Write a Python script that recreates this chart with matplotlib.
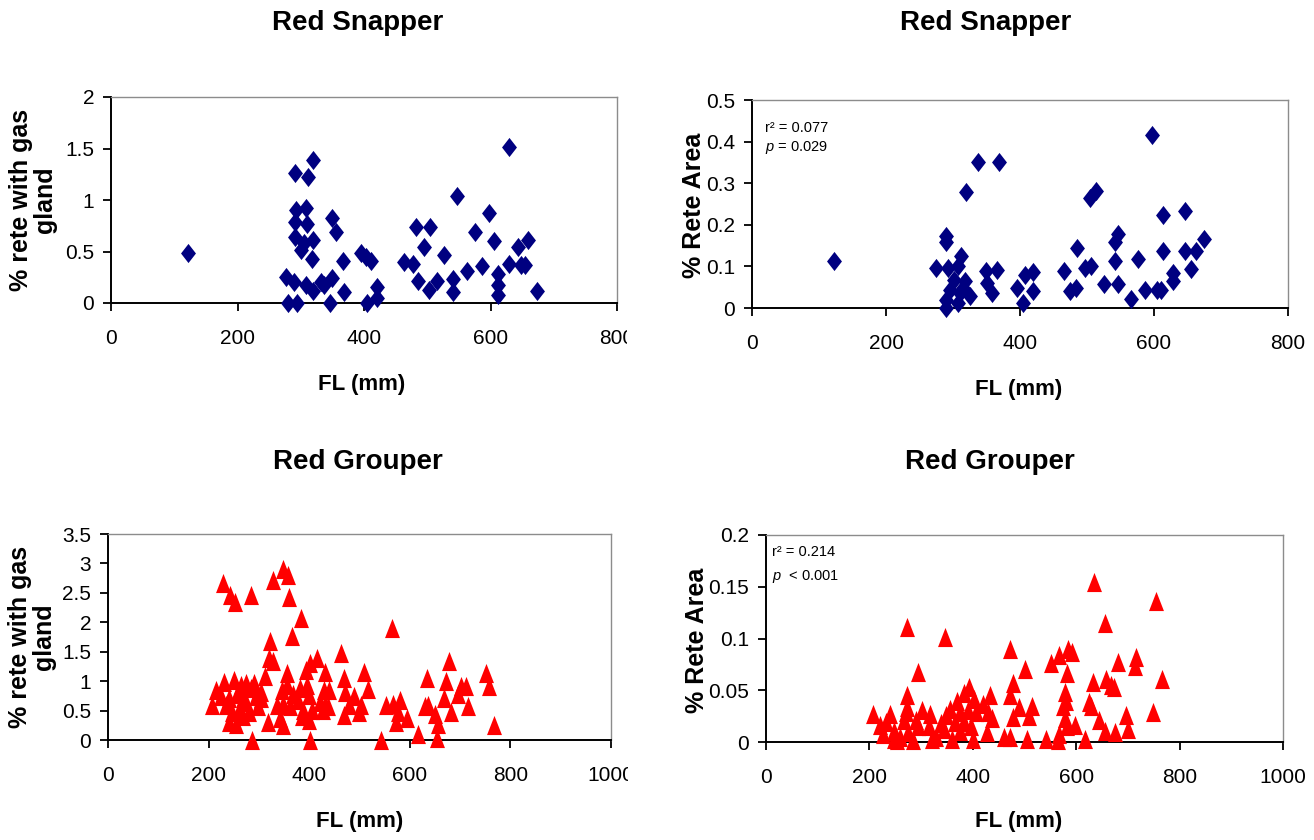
import matplotlib
matplotlib.use("Agg")
import matplotlib.pyplot as plt
from matplotlib.transforms import Bbox, TransformedBbox

# ---- data ----
snapper_fl_gland = [122, 291, 319, 312, 292, 309, 291, 310, 291, 319, 305, 300, 317, 349, 356,
                    367, 396, 411, 403, 276, 290, 309, 320, 332, 349, 337, 280, 294, 346, 369,
                    404, 420, 420, 463, 478, 483, 504, 495, 527, 485, 503, 516, 541, 541, 547,
                    563, 575, 586, 597, 605, 612, 612, 612, 630, 630, 644, 660, 648, 654, 673]
snapper_gland = [0.485, 1.26, 1.39, 1.22, 0.90, 0.92, 0.79, 0.77, 0.64, 0.61, 0.58, 0.51, 0.43, 0.83, 0.69,
                 0.41, 0.485, 0.41, 0.45, 0.25, 0.20, 0.17, 0.12, 0.20, 0.24, 0.17, 0.0, 0.0, 0.0, 0.11,
                 0.0, 0.16, 0.05, 0.40, 0.38, 0.74, 0.74, 0.54, 0.47, 0.21, 0.13, 0.21, 0.23, 0.11, 1.04,
                 0.31, 0.69, 0.36, 0.87, 0.60, 0.28, 0.17, 0.08, 1.51, 0.38, 0.54, 0.61, 0.37, 0.37, 0.12]

snapper_fl_area = [123, 289, 289, 319, 338, 368, 274, 292, 312, 308, 302, 318, 296, 310, 326,
                   289, 289, 307, 315, 349, 366, 350, 358, 395, 408, 419, 419, 405, 465, 475,
                   483, 485, 497, 506, 504, 514, 526, 542, 546, 542, 547, 566, 576, 587, 597,
                   604, 611, 613, 613, 629, 629, 647, 647, 655, 662, 675]
snapper_area = [0.114, 0.174, 0.158, 0.278, 0.350, 0.350, 0.096, 0.096, 0.126, 0.100, 0.068, 0.064, 0.044, 0.036, 0.028,
                0.020, 0.0, 0.012, 0.048, 0.088, 0.092, 0.060, 0.036, 0.048, 0.080, 0.086, 0.040, 0.012, 0.088, 0.040,
                0.048, 0.144, 0.096, 0.100, 0.264, 0.282, 0.058, 0.112, 0.178, 0.158, 0.058, 0.022, 0.118, 0.044, 0.416,
                0.044, 0.044, 0.224, 0.136, 0.084, 0.064, 0.234, 0.136, 0.094, 0.136, 0.166]

grouper_fl_gland = [228, 243, 252, 284, 328, 347, 358, 360, 383, 366, 323, 564, 321, 328, 464,
                    415, 402, 393, 432, 509, 355, 313, 470, 677, 634, 671, 751, 757, 701, 711,
                    696, 667, 716, 682, 630, 636, 650, 657, 617, 655, 767, 542, 402, 286, 552,
                    566, 580, 577, 594, 573, 516, 472, 490, 503, 479, 470, 499, 429, 439, 432,
                    422, 437, 427, 395, 382, 355, 345, 368, 378, 399, 348, 335, 362, 388, 341,
                    318, 348, 399, 385, 405, 305, 291, 274, 264, 251, 231, 214, 207, 224, 241,
                    257, 268, 294, 298, 247, 261, 281, 241, 254, 268, 234, 274, 284, 305]
grouper_gland = [2.66, 2.46, 2.35, 2.47, 2.72, 2.90, 2.81, 2.43, 2.07, 1.77, 1.68, 1.90, 1.39, 1.35, 1.47,
                 1.40, 1.30, 1.19, 1.16, 1.16, 1.14, 1.08, 1.05, 1.35, 1.05, 1.01, 1.13, 0.92, 0.91, 0.92,
                 0.79, 0.71, 0.57, 0.48, 0.57, 0.59, 0.45, 0.28, 0.11, 0.03, 0.25, 0.0, 0.0, 0.0, 0.59,
                 0.62, 0.68, 0.48, 0.37, 0.31, 0.86, 0.82, 0.74, 0.59, 0.59, 0.42, 0.48, 0.85, 0.85, 0.59,
                 0.65, 0.57, 0.51, 0.93, 0.88, 0.93, 0.85, 0.79, 0.68, 0.76, 0.62, 0.59, 0.57, 0.51, 0.37,
                 0.31, 0.25, 0.34, 0.40, 0.51, 0.82, 0.96, 0.96, 0.93, 1.02, 0.99, 0.85, 0.59, 0.74, 0.71,
                 0.79, 0.71, 0.74, 0.57, 0.48, 0.51, 0.48, 0.31, 0.28, 0.40, 0.59, 0.65, 0.88, 0.71]

grouper_fl_area = [272, 347, 634, 755, 656, 471, 500, 551, 566, 584, 592, 582, 680, 715, 714,
                   766, 632, 657, 668, 673, 294, 272, 272, 477, 471, 490, 514, 508, 478, 579,
                   580, 575, 624, 628, 697, 701, 749, 645, 655, 675, 578, 583, 597, 566, 541,
                   617, 564, 505, 460, 471, 428, 434, 420, 393, 383, 369, 403, 376, 356, 349,
                   390, 407, 430, 437, 366, 383, 396, 376, 345, 328, 322, 359, 401, 284, 254,
                   206, 220, 240, 233, 226, 247, 267, 270, 291, 294, 301, 318, 274, 260, 247,
                   339, 316]
grouper_area = [0.111, 0.101, 0.155, 0.136, 0.115, 0.090, 0.071, 0.076, 0.084, 0.090, 0.087, 0.067, 0.077, 0.082, 0.073,
                0.061, 0.058, 0.061, 0.055, 0.053, 0.068, 0.045, 0.034, 0.057, 0.045, 0.034, 0.035, 0.025, 0.024, 0.048,
                0.040, 0.035, 0.039, 0.035, 0.026, 0.013, 0.029, 0.021, 0.011, 0.010, 0.023, 0.015, 0.016, 0.008, 0.003,
                0.003, 0.002, 0.003, 0.005, 0.005, 0.010, 0.045, 0.037, 0.053, 0.047, 0.040, 0.042, 0.029, 0.032, 0.026,
                0.031, 0.029, 0.029, 0.023, 0.019, 0.019, 0.015, 0.011, 0.013, 0.005, 0.003, 0.003, 0.003, 0.002, 0.002,
                0.027, 0.016, 0.027, 0.019, 0.008, 0.011, 0.021, 0.029, 0.021, 0.015, 0.031, 0.027, 0.010, 0.005, 0.003,
                0.018, 0.015]

x_ticks_snapper = [0, 200, 400, 600, 800]
x_ticks_grouper = [0, 200, 400, 600, 800, 1000]
y_ticks_tl = [0, 0.5, 1, 1.5, 2]
y_labels_tl = ["0", "0.5", "1", "1.5", "2"]
y_ticks_tr = [0, 0.1, 0.2, 0.3, 0.4, 0.5]
y_labels_tr = ["0", "0.1", "0.2", "0.3", "0.4", "0.5"]
y_ticks_bl = [0, 0.5, 1, 1.5, 2, 2.5, 3, 3.5]
y_labels_bl = ["0", "0.5", "1", "1.5", "2", "2.5", "3", "3.5"]
y_ticks_br = [0, 0.05, 0.1, 0.15, 0.2]
y_labels_br = ["0", "0.05", "0.1", "0.15", "0.2"]

plt.rcParams['font.family'] = ['Liberation Sans', 'DejaVu Sans']
plt.rcParams['mathtext.fontset'] = 'custom'
plt.rcParams['mathtext.it'] = 'Liberation Sans:italic'
plt.rcParams['mathtext.rm'] = 'Liberation Sans'

W, H = 1314, 840
fig = plt.figure(figsize=(W / 100, H / 100), dpi=100)
fig.patch.set_facecolor('white')

diamond = [(0, 1), (0.78, 0), (0, -1), (-0.78, 0), (0, 1)]
triangle = [(0, 1), (0.78, -1), (-0.78, -1), (0, 1)]


def px_axes(left, right, top, bottom):
    return fig.add_axes([left / W, 1 - bottom / H, (right - left) / W, (bottom - top) / H])


def style(ax, xt, yt, ylab, xmax, ymax):
    ax.set_xlim(0, xmax)
    ax.set_ylim(0, ymax)
    ax.set_xticks(xt)
    ax.set_xticklabels([str(v) for v in xt])
    ax.set_yticks(yt)
    ax.set_yticklabels(ylab)
    for s in ['top', 'right']:
        ax.spines[s].set_color('#8c8c8c')
        ax.spines[s].set_linewidth(1.0)
    for s in ['left', 'bottom']:
        ax.spines[s].set_color('black')
        ax.spines[s].set_linewidth(1.4)
    ax.tick_params(axis='x', direction='out', length=6, width=1.3, pad=13, labelsize=15)
    ax.tick_params(axis='y', direction='out', length=6, width=1.3, pad=6, labelsize=15)


def clip_last_xlabel(ax, xclip):
    box = TransformedBbox(Bbox([[0, 0], [xclip / W, 1]]), fig.transFigure)
    lab = ax.xaxis.get_major_ticks()[-1].label1
    lab.set_clip_on(True)
    lab.set_clip_box(box)


# top left
ax1 = px_axes(111, 617, 97, 303)
ax1.scatter(snapper_fl_gland, snapper_gland, marker=diamond, s=190, color='#000080',
            linewidths=0, clip_on=False, zorder=3)
style(ax1, x_ticks_snapper, y_ticks_tl, y_labels_tl, 800, 2)
clip_last_xlabel(ax1, 627)

# top right
ax2 = px_axes(752, 1288, 100, 308)
ax2.scatter(snapper_fl_area, snapper_area, marker=diamond, s=190, color='#000080',
            linewidths=0, clip_on=False, zorder=3)
style(ax2, x_ticks_snapper, y_ticks_tr, y_labels_tr, 800, 0.5)
ax2.text(0.024, 0.865, "r² = 0.077", transform=ax2.transAxes, fontsize=10.5, va='center')
ax2.text(0.024, 0.77, r"$p$ = 0.029", transform=ax2.transAxes, fontsize=10.5, va='center')

# bottom left
ax3 = px_axes(108, 611, 534, 740)
ax3.scatter(grouper_fl_gland, grouper_gland, marker=triangle, s=190, color='#ff0000',
            linewidths=0, clip_on=False, zorder=3)
style(ax3, x_ticks_grouper, y_ticks_bl, y_labels_bl, 1000, 3.5)
clip_last_xlabel(ax3, 628)

# bottom right
ax4 = px_axes(766, 1283, 535, 742)
ax4.scatter(grouper_fl_area, grouper_area, marker=triangle, s=190, color='#ff0000',
            linewidths=0, clip_on=False, zorder=3)
style(ax4, x_ticks_grouper, y_ticks_br, y_labels_br, 1000, 0.2)
ax4.text(0.012, 0.918, "r² = 0.214", transform=ax4.transAxes, fontsize=10.5, va='center')
ax4.text(0.012, 0.80, r"$p$  < 0.001", transform=ax4.transAxes, fontsize=10.5, va='center')


# titles, axis labels
def ftext(x, y, s, **kw):
    fig.text(x / W, 1 - y / H, s, ha='center', va='center', **kw)


ftext(358, 23, "Red Snapper", fontsize=20, fontweight='bold')
ftext(986, 23, "Red Snapper", fontsize=20, fontweight='bold')
ftext(358, 462, "Red Grouper", fontsize=20, fontweight='bold')
ftext(990, 462, "Red Grouper", fontsize=20, fontweight='bold')

for x, y in [(362, 385), (1019, 389), (360, 822), (1019, 822)]:
    ftext(x, y, "FL (mm)", fontsize=16, fontweight='bold')

ylab_font = dict(fontsize=18, fontweight='bold', rotation=90,
                 multialignment='center', linespacing=1.0)
ftext(33, 200, "% rete with gas\ngland", **ylab_font)
ftext(694, 205, "% Rete Area", **ylab_font)
ftext(32, 637, "% rete with gas\ngland", **ylab_font)
ftext(697, 640, "% Rete Area", **ylab_font)

fig.savefig("out.png", dpi=100, facecolor='white')
